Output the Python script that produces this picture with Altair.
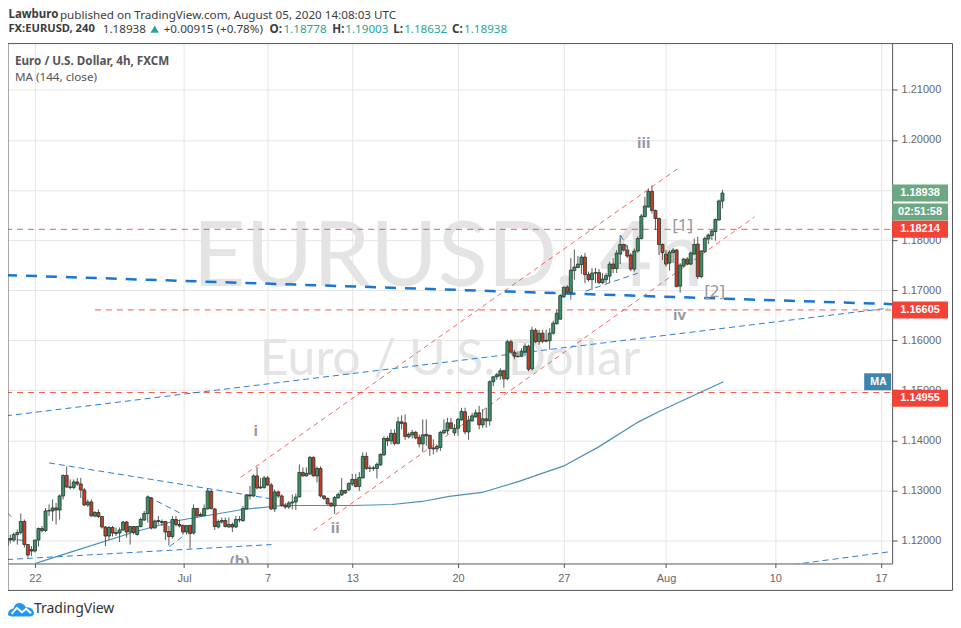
import altair as alt
import pandas as pd

# Prices are in units of 0.0001. Bars are numbered on a gap-free 4h axis, 0 = 22 June.
first_bar = -8
opens = [11190,11204,11201,11212,11216,11238,11192,11182,11179,11201,
11224,11220,11260,11259,11265,11261,11289,11330,11307,11306,
11317,11313,11301,11271,11277,11249,11256,11248,11227,11209,
11226,11216,11215,11221,11237,11217,11228,11212,11228,11241,
11254,11285,11225,11240,11238,11238,11218,11208,11242,11232,
11230,11217,11230,11215,11264,11249,11250,11263,11298,11263,
11227,11237,11240,11227,11232,11227,11241,11240,11263,11291,
11289,11329,11305,11306,11325,11311,11263,11297,11289,11271,
11267,11275,11277,11287,11336,11329,11333,11366,11329,11344,
11289,11284,11274,11269,11285,11291,11300,11301,11313,11322,
11308,11325,11368,11344,11344,11344,11351,11371,11404,11399,
11414,11394,11437,11435,11407,11411,11416,11406,11393,11412,
11410,11385,11383,11386,11415,11419,11435,11415,11424,11441,
11457,11417,11439,11447,11455,11431,11443,11439,11517,11527,
11529,11539,11523,11597,11576,11568,11568,11577,11588,11543,
11620,11597,11614,11598,11599,11614,11633,11642,11687,11706,
11695,11739,11745,11751,11766,11731,11721,11734,11735,11715,
11721,11728,11752,11743,11772,11791,11780,11770,11742,11778,
11803,11847,11866,11897,11859,11843,11791,11772,11754,11775,
11780,11708,11748,11762,11752,11772,11792,11727,11777,11802,
11809,11817,11840,11877.8]
highs = [11212,11212,11216,11222,11254,11242,11192,11189,11201,11226,
11229,11265,11272,11282,11275,11292,11332,11348,11322,11322,
11325,11325,11305,11282,11282,11259,11262,11249,11229,11229,
11229,11226,11226,11239,11239,11229,11229,11229,11246,11259,
11290,11287,11242,11249,11242,11239,11229,11249,11249,11242,
11232,11230,11232,11272,11265,11256,11272,11305,11302,11265,
11242,11246,11246,11246,11236,11249,11249,11269,11292,11309,
11332,11347,11325,11329,11329,11315,11302,11300,11292,11275,
11279,11292,11294,11352,11346,11346,11369,11368,11348,11348,
11291,11286,11277,11289,11296,11325,11301,11316,11333,11333,
11337,11376,11376,11350,11349,11356,11374,11408,11408,11422,
11422,11447,11450,11452,11416,11421,11419,11412,11442,11442,
11412,11402,11392,11419,11442,11445,11445,11432,11445,11465,
11465,11449,11455,11462,11469,11462,11465,11520,11528,11535,
11544,11541,11601,11601,11581,11578,11584,11594,11591,11627,
11624,11621,11621,11621,11624,11639,11661,11692,11707,11710,
11764,11781,11768,11770,11774,11737,11744,11744,11742,11734,
11734,11757,11764,11780,11810,11793,11790,11774,11783,11807,
11852,11886,11903,11909,11861,11845,11793,11780,11780,11784,
11782,11754,11764,11766,11777,11803,11807,11780,11807,11813,
11821,11843,11881,11900.3]
lows = [11182,11194,11197,11192,11212,11186,11166,11169,11176,11188,
11216,11217,11249,11239,11232,11242,11282,11305,11302,11302,
11309,11285,11269,11267,11248,11246,11245,11224,11189,11201,
11208,11209,11197,11219,11206,11192,11212,11210,11226,11239,
11236,11222,11224,11232,11229,11201,11190,11204,11228,11226,
11212,11212,11184,11212,11246,11248,11249,11262,11262,11221,
11224,11234,11226,11226,11217,11225,11236,11237,11262,11282,
11287,11302,11303,11303,11309,11261,11257,11285,11267,11263,
11263,11262,11261,11287,11328,11328,11331,11328,11316,11286,
11281,11272,11267,11253,11284,11289,11293,11299,11309,11306,
11299,11324,11341,11337,11339,11324,11349,11369,11389,11392,
11390,11392,11422,11401,11404,11404,11402,11386,11377,11389,
11369,11372,11376,11379,11412,11412,11422,11409,11409,11439,
11412,11401,11437,11445,11422,11425,11425,11429,11508,11521,
11521,11505,11520,11573,11562,11566,11566,11568,11538,11539,
11594,11591,11594,11596,11581,11611,11631,11641,11684,11694,
11681,11721,11744,11732,11714,11717,11701,11714,11712,11712,
11714,11714,11734,11734,11752,11777,11764,11738,11737,11775,
11801,11845,11865,11853,11820,11770,11760,11747,11739,11754,
11706,11695,11745,11750,11750,11770,11722,11724,11774,11792,
11800,11799,11839,11863.2]
closes = [11202,11201,11212,11216,11238,11192,11171,11179,11201,11224,
11220,11259,11259,11265,11261,11289,11330,11307,11306,11317,
11313,11301,11271,11277,11249,11256,11248,11227,11209,11226,
11215,11214,11221,11237,11217,11228,11216,11228,11242,11254,
11287,11225,11239,11238,11236,11217,11208,11242,11232,11229,
11217,11230,11214,11264,11249,11252,11264,11299,11264,11228,
11238,11240,11228,11232,11227,11242,11242,11264,11291,11289,
11329,11305,11307,11325,11311,11263,11297,11289,11270,11267,
11275,11277,11287,11336,11329,11334,11366,11329,11344,11289,
11284,11273,11269,11286,11292,11300,11295,11314,11322,11308,
11326,11368,11344,11345,11345,11352,11372,11404,11399,11414,
11394,11437,11434,11408,11412,11416,11405,11393,11411,11409,
11384,11383,11388,11416,11420,11435,11424,11424,11442,11458,
11417,11440,11449,11455,11431,11443,11439,11517,11527,11531,
11539,11523,11597,11576,11568,11567,11578,11588,11542,11620,
11597,11614,11598,11600,11614,11634,11654,11689,11706,11696,
11740,11746,11752,11766,11731,11721,11734,11735,11715,11722,
11729,11752,11743,11774,11791,11780,11768,11742,11778,11803,
11848,11868,11897,11859,11843,11791,11775,11752,11776,11780,
11707,11750,11762,11752,11774,11791,11727,11778,11803,11810,
11818,11841,11878,11893.8]

ma_bar = [0,7.9,27.7,39.1,58.9,70.2,90,101.3,109.8,117.5,126.8,137.3,150,159.9,171.2,176.9,185.4,195.3]
ma_price = [1.1154,1.1172,1.1216,1.1238,1.1262,1.1270,1.1270,1.1272,1.1278,1.1288,1.1296,1.1318,1.1349,1.1387,1.1437,1.1457,1.1485,1.1517]

# drawings: (bar, price, bar, price)
red_channels = [(58.3,1.1326,182.8,1.1945),(79.0,1.1220,204.1,1.1846)]
red_levels = [(-8.2,1.18214,243.2,1.18214),(17,1.16605,243.2,1.16605),(-8.2,1.14955,243.2,1.14955)]
blue_thick = [(-8.2,1.1730,243.2,1.1672)]
blue_thin = [(-8.2,1.1449,242,1.1664),(215,1.1152,242.9,1.1178),(4,1.1355,66.5,1.1284),
             (-7.9,1.1162,67.1,1.1192),(32,1.1288,41.9,1.1252),(38.2,1.1188,41.9,1.1208),
             (-7.9,1.1256,-6.5,1.1246),(-7.9,1.1204,-3.1,1.1200),
             (156.2,1.1698,171,1.1734),(166.1,1.1810,168.4,1.1780)]

wave_labels = ["i","ii","iii","iv","(b)"]
wave_bars = [62.6,85.2,172.7,182.8,58]
wave_prices = [1.1419,1.1226,1.1993,1.1650,1.1160]
sub_labels = ["[1]","[2]"]
sub_bars = [183.7,192.8]
sub_prices = [1.1828,1.1696]

tag_texts = ["1.18938","02:51:58","1.18214","1.16605","1.14955"]
tag_prices = [1.18938,1.18560,1.18214,1.16605,1.14840]
tag_colors = ["#6ca884","#6ca884","#f44336","#f44336","#f44336"]

tick_bars = [0,42.3,66,90,120,150,179,210,240]
tick_names = ["22","Jul","7","13","20","27","Aug","10","17"]
price_ticks = [1.12,1.13,1.14,1.15,1.16,1.17,1.18,1.19,1.20,1.21]

X_DOM = [-7.64, 243.13]
Y_DOM = [1.11542, 1.21923]
xs = alt.Scale(domain=X_DOM, nice=False, zero=False, padding=0)
ys = alt.Scale(domain=Y_DOM, nice=False, zero=False, padding=0)

label_map = "{" + ",".join(f"'{b}':'{t}'" for b, t in zip(tick_bars, tick_names)) + "}"
x_axis = alt.Axis(
    values=tick_bars, labelExpr=label_map + "[datum.value]", grid=True, gridColor="#e6e6e6",
    domainColor="#555555", tickColor="#555555", tickSize=4, labelColor="#666666", title=None,
    labelFont="Liberation Sans", labelFontSize=11, labelPadding=5, labelFlush=False,
    labelOverlap=False, domainWidth=1, orient="bottom")
y_axis = alt.Axis(
    values=price_ticks, format=".5f", grid=True, gridColor="#e6e6e6", orient="right", title=None,
    domainColor="#555555", tickColor="#555555", tickSize=5, labelColor="#666666",
    labelFont="Liberation Sans", labelFontSize=11, labelPadding=4, labelOverlap=False)
X = lambda f: alt.X(f, type="quantitative", scale=xs, axis=x_axis)
Y = lambda f: alt.Y(f, type="quantitative", scale=ys, axis=y_axis)

assert len(opens) == len(highs) == len(lows) == len(closes), (len(opens), len(highs), len(lows), len(closes))
candles = pd.DataFrame({
    "bar": [first_bar + k for k in range(len(opens))],
    "o": [v / 10000 for v in opens], "h": [v / 10000 for v in highs],
    "l": [v / 10000 for v in lows], "c": [v / 10000 for v in closes],
})
candles["up"] = candles.c >= candles.o


def seg_frame(segs):
    rows = []
    for k, (a, b, c, d) in enumerate(segs):
        rows += [{"s": k, "b": a, "p": b}, {"s": k, "b": c, "p": d}]
    return pd.DataFrame(rows)


def seg_layer(segs, color, width, dash, opacity=1):
    return alt.Chart(seg_frame(segs)).mark_line(
        color=color, strokeWidth=width, strokeDash=dash, opacity=opacity, clip=True
    ).encode(x=X("b"), y=Y("p"), detail="s:N", order="b:Q")


def free_text(text, x, y, size=11.7, color="#3c3c3c", weight="normal", font="Noto Sans", align="left"):
    return alt.Chart(pd.DataFrame({"t": [text]})).mark_text(
        align=align, baseline="middle", font=font, fontSize=size, fontWeight=weight, color=color, clip=False
    ).encode(x=alt.value(x), y=alt.value(y), text="t:N")


def frame_rule(x, x2, y, y2):
    return alt.Chart(pd.DataFrame({"a": [0]})).mark_rule(color="#555555", strokeWidth=1, clip=False).encode(
        x=alt.value(x), x2=alt.value(x2), y=alt.value(y), y2=alt.value(y2))


wm1 = free_text("EURUSD, 4h", 441, 215, size=92, color="#e4e4e4", font="Lato", align="center")
wm2 = free_text("Euro / U.S. Dollar", 443, 317, size=50, color="#e4e4e4", font="Lato", align="center")

wicks = alt.Chart(candles).mark_rule(color="#595959", strokeWidth=1, clip=True).encode(
    x=X("bar"), y=Y("l"), y2="h:Q")
bodies = alt.Chart(candles).mark_bar(size=3, stroke="#20382c", strokeWidth=0.8, clip=True).encode(
    x=X("bar"), y=Y("o"), y2="c:Q",
    fill=alt.Fill("up:N", scale=alt.Scale(domain=[True, False], range=["#3f9068", "#cc3a2a"]), legend=None))

ma = alt.Chart(pd.DataFrame({"b": ma_bar, "p": ma_price})).mark_line(
    color="#4a8fb5", strokeWidth=1.2, clip=True).encode(x=X("b"), y=Y("p"), order="b:Q")

waves = alt.Chart(pd.DataFrame({"t": wave_labels, "b": wave_bars, "p": wave_prices})).mark_text(
    font="Noto Sans", fontSize=15, fontWeight="bold", color="#9598a1", clip=True
).encode(x=X("b"), y=Y("p"), text="t:N")
subs = alt.Chart(pd.DataFrame({"t": sub_labels, "b": sub_bars, "p": sub_prices})).mark_text(
    font="Noto Sans", fontSize=17, color="#9598a1", clip=True
).encode(x=X("b"), y=Y("p"), text="t:N")

tags_df = pd.DataFrame({"t": tag_texts, "p": tag_prices, "col": tag_colors})
tag_bg = alt.Chart(tags_df).mark_rule(strokeWidth=17, clip=False).encode(
    x=alt.value(886), x2=alt.value(942), y=Y("p"), color=alt.Color("col:N", scale=None, legend=None))
tag_txt = alt.Chart(tags_df).mark_text(
    font="Liberation Sans", fontSize=11, fontWeight="bold", color="#ffffff", clip=False
).encode(x=alt.value(914), y=Y("p"), text="t:N")
ma_bg = alt.Chart(pd.DataFrame({"p": [ma_price[-1]]})).mark_rule(strokeWidth=17, color="#3d85ad", clip=False).encode(
    x=alt.value(858), x2=alt.value(885), y=Y("p"))
ma_txt = alt.Chart(pd.DataFrame({"p": [ma_price[-1]], "t": ["MA"]})).mark_text(
    font="Noto Sans", fontSize=10, fontWeight="bold", color="#ffffff", clip=False
).encode(x=alt.value(872), y=Y("p"), text="t:N")

TEAL = "#26a69a"
tri = alt.Chart(pd.DataFrame({"a": [0]})).mark_point(
    shape="triangle-up", filled=True, size=70, color=TEAL, opacity=1, clip=False
).encode(x=alt.value(147), y=alt.value(-14.5))
header = [
    free_text("Lawburo", 0.5, -28.5, weight="bold", size=11.5),
    free_text("published on TradingView.com, August 05, 2020 14:08:03 UTC", 52, -28.5),
    free_text("FX:EURUSD, 240", 0.5, -14.5, weight="bold", size=11.2),
    free_text("1.18938", 95, -14.5),
    tri,
    free_text("+0.00915 (+0.78%)", 156, -14.5),
    free_text("O:", 262, -14.5, weight="bold"),
    free_text("1.18778", 276, -14.5, color=TEAL),
    free_text("H:", 325, -14.5, weight="bold"),
    free_text("1.19003", 338, -14.5, color=TEAL),
    free_text("L:", 386, -14.5, weight="bold"),
    free_text("1.18632", 397, -14.5, color=TEAL),
    free_text("C:", 445, -14.5, weight="bold"),
    free_text("1.18938", 457, -14.5, color=TEAL),
    free_text("Euro / U.S. Dollar, 4h, FXCM", 7, 17, weight="bold", color="#555555"),
    free_text("MA (144, close)", 7, 34, color="#555555"),
    free_text("TradingView", 26, 567, size=14, color="#333333"),
]

CLOUD = ("M-1,0.45 C-1,0.12 -0.82,-0.02 -0.58,-0.06 C-0.5,-0.42 -0.2,-0.55 0.05,-0.45 "
         "C0.22,-0.4 0.3,-0.28 0.36,-0.16 C0.72,-0.22 1,0.02 1,0.28 C1,0.48 0.82,0.55 0.65,0.55 L-0.75,0.55 Z")
ZIG = "M-0.72,0.34 L-0.32,-0.12 L0.08,0.22 L0.4,-0.04 L0.78,0.3"
logo = alt.Chart(pd.DataFrame({"a": [0]})).mark_point(
    shape=CLOUD, size=676, filled=True, color="#2196f3", opacity=1, clip=False
).encode(x=alt.value(13), y=alt.value(567))
zig = alt.Chart(pd.DataFrame({"a": [0]})).mark_point(
    shape=ZIG, size=676, filled=False, color="#ffffff", strokeWidth=2, opacity=1, clip=False
).encode(x=alt.value(13), y=alt.value(567))

RED = "#f44336"
BLUE = "#2a7fd5"
chart = alt.layer(
    wm1, wm2,
    seg_layer(red_levels, RED, 1, [6, 5], 0.9),
    seg_layer(red_channels, RED, 1, [5, 4], 0.8),
    seg_layer(blue_thick, "#1976d2", 2.5, [11, 9]),
    seg_layer(blue_thin, BLUE, 1, [6, 4]),
    ma, wicks, bodies, waves, subs,
    frame_rule(0, 946.5, 0, 0), frame_rule(946.5, 946.5, 0, 548),
    frame_rule(0, 946.5, 548, 548), frame_rule(0, 0, 0, 548),
    tag_bg, tag_txt, ma_bg, ma_txt, *header, logo, zig,
).resolve_scale(color="independent").properties(
    width=886, height=521,
    autosize=alt.AutoSizeParams(type="none"),
    padding={"left": 0, "top": 35, "right": 61, "bottom": 56},
).configure_view(stroke=None)

chart.save("out.html", embed_options={"renderer": "svg", "actions": False})
